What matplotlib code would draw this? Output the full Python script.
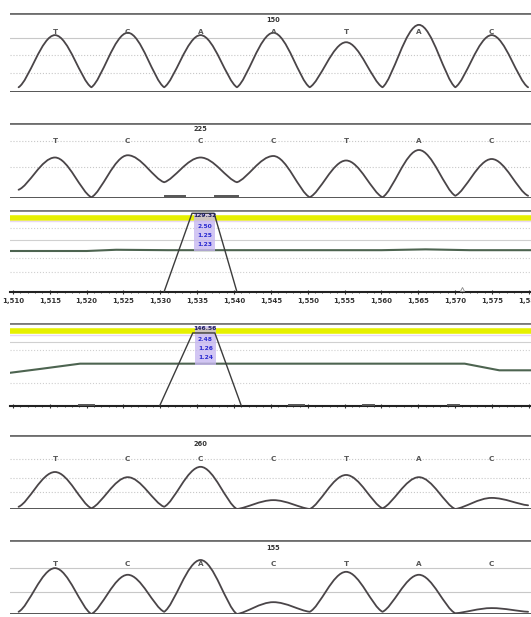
import matplotlib
matplotlib.use('Agg')
import matplotlib.pyplot as plt
from matplotlib.path import Path
from matplotlib.patches import PathPatch, Rectangle

W, H = 531, 617

# ---------------- data ----------------
bases_1 = ['T', 'C', 'A', 'A', 'T', 'A', 'C']
peaks_1 = [72, 75, 72, 75, 63, 85, 72]
troughs_1 = [6, 6, 6, 6, 6, 6, 6, 6]
label_1 = '150'

bases_2 = ['T', 'C', 'C', 'C', 'T', 'A', 'C']
peaks_2 = [54, 57, 54, 56, 50, 64, 52]
troughs_2 = [11, 1, 21, 21, 1, 1, 3, 3]
label_2 = '225'

bases_5 = ['T', 'C', 'C', 'C', 'T', 'A', 'C']
peaks_5 = [50, 43, 57, 12, 46, 43, 15]
troughs_5 = [3, 1, 3, 0, 0, 1, 0, 5]
label_5 = '260'

bases_6 = ['T', 'C', 'A', 'C', 'T', 'A', 'C']
peaks_6 = [62, 53, 73, 16, 57, 53, 8]
troughs_6 = [3, 0, 3, 0, 3, 3, 1, 3]
label_6 = '155'

pos_ticks = [1510, 1515, 1520, 1525, 1530, 1535, 1540, 1545,
             1550, 1555, 1560, 1565, 1570, 1575, 1580]

tri3_x = [1530.5, 1534.3, 1537.3, 1540.4]
tri3_y = [0, 96, 96, 0]
green3_x = [1509.6, 1520, 1524, 1531, 1560, 1566, 1572, 1580.3]
green3_y = [50, 50, 51.5, 51, 51, 52, 51, 51]
peak3_text = ['129.32', '2.50', '1.25', '1.23']

tri4_x = [1529.9, 1534.4, 1537.4, 1541.0]
tri4_y = [0, 88, 88, 0]
green4_x = [1509.6, 1514, 1519.1, 1571.3, 1576.0, 1580.3]
green4_y = [40, 45, 51, 51, 43, 43]
peak4_text = ['146.56', '2.48', '1.26', '1.24']

# ---------------- figure ----------------
fig = plt.figure(figsize=(W / 100, H / 100), dpi=100)
fig.patch.set_facecolor('white')

LEFT, RIGHT = 10, 531


def add_panel(top_px, base_px):
    ax = fig.add_axes([LEFT / W, 1 - base_px / H, (RIGHT - LEFT) / W,
                       (base_px - top_px) / H])
    ax.set_ylim(0, 100)
    ax.set_facecolor('none')
    for s in ax.spines.values():
        s.set_visible(False)
    ax.set_xticks([])
    ax.set_yticks([])
    return ax


def trace_path(peaks, troughs):
    pts = []
    for i, p in enumerate(peaks):
        pts.append((i - 0.5, troughs[i], 't'))
        pts.append((i, p, 'p'))
    pts.append((len(peaks) - 0.5, troughs[len(peaks)], 't'))
    verts = [(pts[0][0], pts[0][1])]
    codes = [Path.MOVETO]
    for (x0, y0, k0), (x1, y1, k1) in zip(pts[:-1], pts[1:]):
        dx, dy = x1 - x0, y1 - y0
        if k0 == 't':
            c1 = (x0 + dx * 0.28, y0 + dy * 0.12)
            c2 = (x1 - dx * 0.36, y1)
        else:
            c1 = (x0 + dx * 0.36, y0)
            c2 = (x1 - dx * 0.28, y1 - dy * 0.12)
        verts += [c1, c2, (x1, y1)]
        codes += [Path.CURVE4] * 3
    return Path(verts, codes)


def chromatogram(top_px, base_px, bases, peaks, troughs, label, label_idx,
                 letter_y, label_y, grids):
    ax = add_panel(top_px, base_px)
    ax.set_xlim(-0.618, 6.54)
    ax.axhline(100, color='#6e6e6e', lw=2.0, zorder=3)
    ax.axhline(0, color='#555555', lw=1.4, zorder=3)
    for gy, ls in grids:
        ax.axhline(gy, color='#c8c8c8', lw=0.8, ls=ls, zorder=1)
    ax.add_patch(PathPatch(trace_path(peaks, troughs), fill=False,
                           edgecolor='#4a4548', lw=1.3, zorder=4,
                           capstyle='round', joinstyle='round'))
    for i, b in enumerate(bases):
        ax.text(i, letter_y, b, ha='center', va='center', fontsize=5.2,
                color='#555555', fontweight='bold', zorder=5)
    ax.text(label_idx, label_y, label, ha='center', va='center',
            fontsize=4.8, color='#333333', fontweight='bold', zorder=5)
    return ax


ax1 = chromatogram(13, 92, bases_1, peaks_1, troughs_1, label_1, 3, 76, 91,
                   [(68, '-'), (47, ':'), (24, ':')])
ax2 = chromatogram(123, 198, bases_2, peaks_2, troughs_2, label_2, 2, 76, 92,
                   [(76, ':'), (42, ':')])
ax2.plot([1.51, 1.79], [2.5, 2.5], color='#555555', lw=1.4, zorder=4)
ax2.plot([2.20, 2.51], [2.5, 2.5], color='#555555', lw=1.4, zorder=4)
ax5 = chromatogram(435, 509, bases_5, peaks_5, troughs_5, label_5, 2, 68, 88,
                   [(68, ':'), (42, ':'), (23, ':')])
ax6 = chromatogram(540, 614, bases_6, peaks_6, troughs_6, label_6, 3, 68, 89,
                   [(62, '-'), (30, '-')])


def peak_panel(top_px, base_px, tri_x, tri_y, gx, gy, texts, grids,
               show_labels):
    ax = add_panel(top_px, base_px)
    ax.set_xlim(1509.6, 1580.3)
    ax.axhline(100, color='#7a7a7a', lw=2.0, zorder=2)
    ax.axhline(90, color='#e6f000', lw=4.0, zorder=2)
    ax.axhline(86, color='#e8d8f4', lw=1.0, zorder=2)
    for yy, ls in grids:
        ax.axhline(yy, color='#d0d0d0', lw=0.8, ls=ls, zorder=1)
    ax.plot(gx, gy, color='#4d6450', lw=1.5, zorder=3)
    ax.plot(tri_x, tri_y, color='#3c3c3c', lw=1.0, zorder=4)
    ax.add_patch(Rectangle((tri_x[1] + 0.3, 50), tri_x[2] - tri_x[1] - 0.2,
                           46, facecolor='#c7b8f0', edgecolor='none',
                           alpha=0.8, zorder=3))
    ty = [93, 80, 69, 58]
    for i, t in enumerate(texts):
        ax.text((tri_x[1] + tri_x[2]) / 2 + 0.2, ty[i], t, ha='center',
                va='center', fontsize=4.3, fontweight='bold',
                color='#202060' if i == 0 else '#2a2ad0', zorder=5)
    ax.spines['bottom'].set_visible(True)
    ax.spines['bottom'].set_color('#222222')
    ax.spines['bottom'].set_linewidth(1.5)
    ax.set_xticks(pos_ticks)
    ax.set_xticks(range(1510, 1581), minor=True)
    ax.tick_params(axis='x', which='major', length=3, width=0.8,
                   color='#333333', direction='inout', pad=3)
    ax.tick_params(axis='x', which='minor', length=2, width=0.6,
                   color='#333333', direction='inout')
    if show_labels:
        ax.set_xticklabels(['{:,}'.format(v) for v in pos_ticks],
                           fontsize=5.0, fontweight='bold', color='#333333')
    else:
        ax.set_xticklabels([])
    return ax


ax3 = peak_panel(210, 292, tri3_x, tri3_y, green3_x, green3_y, peak3_text,
                 [(78, ':'), (63, '-'), (41, ':'), (24, ':')], True)
ax3.plot([1571], [4], marker='^', ms=3, mfc='white', mec='#888888', mew=0.6,
         zorder=5)

ax4 = peak_panel(323, 406, tri4_x, tri4_y, green4_x, green4_y, peak4_text,
                 [(77, '-'), (67, ':'), (28, ':')], False)
for x0, x1 in [(1519, 1521), (1547.5, 1549.5), (1557.5, 1559), (1569, 1570.5)]:
    ax4.plot([x0, x1], [1.5, 1.5], color='#555555', lw=1.4, zorder=4)

fig.savefig('out.png', dpi=100, facecolor='white')
